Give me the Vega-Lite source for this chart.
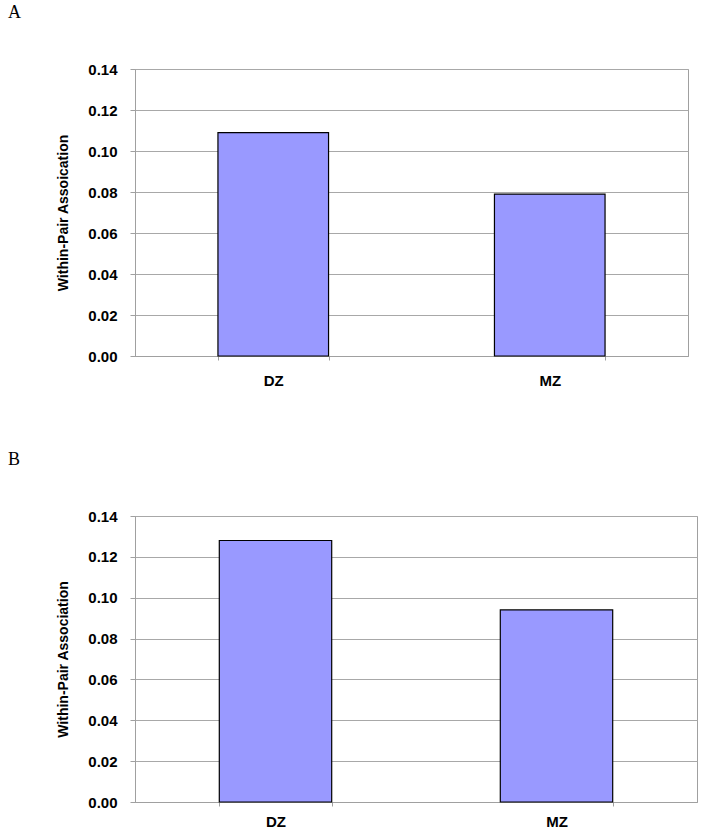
{
  "$schema": "https://vega.github.io/schema/vega-lite/v6.json",
  "background": "white",
  "padding": {"left": 7, "top": 3, "right": 0, "bottom": 0},
  "spacing": 61,
  "config": {
    "view": {"stroke": "#a0a0a0", "strokeWidth": 1},
    "axis": {
      "labelFont": "Liberation Sans",
      "labelFontWeight": "bold",
      "labelFontSize": 15,
      "labelColor": "black",
      "titleFont": "Liberation Sans",
      "titleFontWeight": "bold",
      "titleFontSize": 14,
      "titleColor": "black",
      "domainColor": "#a0a0a0",
      "tickColor": "#a0a0a0",
      "gridColor": "#a8a8a8",
      "tickSize": 5
    },
    "title": {
      "font": "Liberation Serif",
      "fontSize": 18,
      "fontWeight": "normal",
      "color": "black",
      "anchor": "start",
      "frame": "group",
      "dx": -127,
      "offset": 40
    }
  },
  "datasets": {
    "a": [
      {"twin": "DZ", "value": 0.109},
      {"twin": "MZ", "value": 0.079}
    ],
    "b": [
      {"twin": "DZ", "value": 0.128},
      {"twin": "MZ", "value": 0.094}
    ]
  },
  "vconcat": [
    {
      "title": "A",
      "width": 553,
      "height": 287,
      "data": {"name": "a"},
      "mark": {"type": "bar", "fill": "#9999ff", "stroke": "black", "strokeWidth": 1.2},
      "encoding": {
        "x": {
          "field": "twin",
          "type": "nominal",
          "sort": ["DZ", "MZ"],
          "scale": {"paddingInner": 0.6, "paddingOuter": 0.3},
          "axis": {"title": null, "labelAngle": 0, "tickBand": "extent", "labelPadding": 13, "tickSize": 4}
        },
        "y": {
          "field": "value",
          "type": "quantitative",
          "scale": {"domain": [0, 0.14], "nice": false},
          "axis": {
            "title": "Within-Pair Assoication",
            "values": [0, 0.02, 0.04, 0.06, 0.08, 0.1, 0.12, 0.14],
            "format": ".2f",
            "labelPadding": 13,
            "titlePadding": 17
          }
        }
      }
    },
    {
      "title": "B",
      "width": 562,
      "height": 286,
      "data": {"name": "b"},
      "mark": {"type": "bar", "fill": "#9999ff", "stroke": "black", "strokeWidth": 1.2},
      "encoding": {
        "x": {
          "field": "twin",
          "type": "nominal",
          "sort": ["DZ", "MZ"],
          "scale": {"paddingInner": 0.6, "paddingOuter": 0.3},
          "axis": {"title": null, "labelAngle": 0, "tickBand": "extent", "labelPadding": 8, "tickSize": 4}
        },
        "y": {
          "field": "value",
          "type": "quantitative",
          "scale": {"domain": [0, 0.14], "nice": false},
          "axis": {
            "title": "Within-Pair Association",
            "values": [0, 0.02, 0.04, 0.06, 0.08, 0.1, 0.12, 0.14],
            "format": ".2f",
            "labelPadding": 13,
            "titlePadding": 17
          }
        }
      }
    }
  ]
}
